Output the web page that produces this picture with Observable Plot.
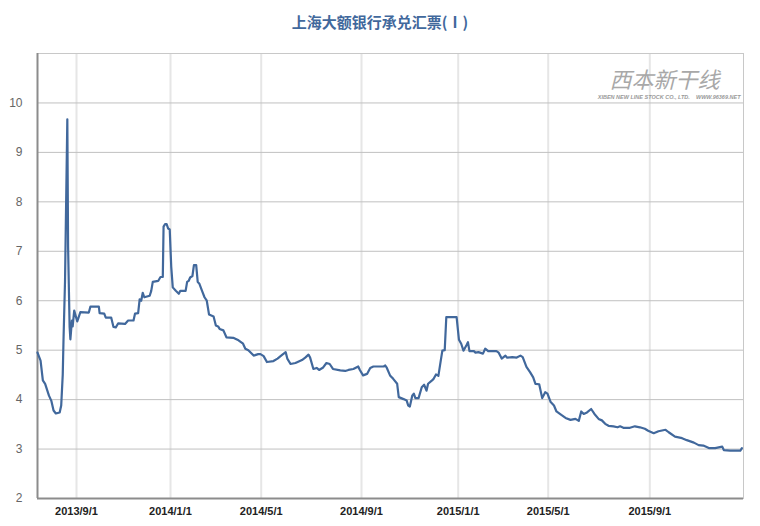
<!DOCTYPE html>
<html><head><meta charset="utf-8">
<script src="https://cdn.jsdelivr.net/npm/d3@7"></script>
<script src="https://cdn.jsdelivr.net/npm/@observablehq/plot@0.6"></script>
<style>
body{margin:0;background:#fff;}
#title{height:40px;line-height:44px;text-align:center;font-family:"Noto Sans CJK SC",sans-serif;font-weight:bold;font-size:15px;color:#41689c;}
</style></head><body>
<div id="title">上海大额银行承兑汇票(Ⅰ)</div>
<div id="chart"></div>
<script>
const dates = ["2013-07-12","2013-07-16","2013-07-19","2013-07-22","2013-07-27","2013-07-30","2013-08-02","2013-08-05","2013-08-10","2013-08-12","2013-08-14","2013-08-15","2013-08-17","2013-08-20","2013-08-21","2013-08-23","2013-08-24","2013-08-26","2013-08-27","2013-08-29","2013-09-02","2013-09-06","2013-09-17","2013-09-19","2013-09-30","2013-10-01","2013-10-07","2013-10-09","2013-10-16","2013-10-19","2013-10-22","2013-10-25","2013-11-03","2013-11-07","2013-11-14","2013-11-16","2013-11-20","2013-11-22","2013-11-24","2013-11-26","2013-11-28","2013-12-05","2013-12-07","2013-12-09","2013-12-16","2013-12-19","2013-12-22","2013-12-23","2013-12-25","2013-12-27","2013-12-29","2013-12-31","2014-01-02","2014-01-04","2014-01-08","2014-01-12","2014-01-14","2014-01-21","2014-01-23","2014-01-25","2014-01-27","2014-01-30","2014-02-01","2014-02-04","2014-02-06","2014-02-08","2014-02-12","2014-02-15","2014-02-18","2014-02-21","2014-02-27","2014-03-02","2014-03-05","2014-03-07","2014-03-12","2014-03-16","2014-03-25","2014-04-01","2014-04-07","2014-04-10","2014-04-14","2014-04-21","2014-04-27","2014-04-30","2014-05-04","2014-05-08","2014-05-16","2014-05-21","2014-05-27","2014-05-31","2014-06-02","2014-06-06","2014-06-12","2014-06-20","2014-06-24","2014-06-28","2014-06-30","2014-07-04","2014-07-08","2014-07-11","2014-07-16","2014-07-20","2014-07-24","2014-07-28","2014-08-06","2014-08-12","2014-08-16","2014-08-22","2014-08-28","2014-08-30","2014-09-03","2014-09-08","2014-09-12","2014-09-16","2014-09-29","2014-10-01","2014-10-03","2014-10-07","2014-10-11","2014-10-16","2014-10-18","2014-10-24","2014-10-28","2014-10-30","2014-11-01","2014-11-04","2014-11-06","2014-11-08","2014-11-12","2014-11-16","2014-11-19","2014-11-22","2014-11-24","2014-11-29","2014-12-01","2014-12-04","2014-12-07","2014-12-10","2014-12-12","2014-12-15","2014-12-17","2014-12-30","2015-01-02","2015-01-05","2015-01-08","2015-01-12","2015-01-14","2015-01-16","2015-01-22","2015-01-24","2015-01-28","2015-02-03","2015-02-06","2015-02-10","2015-02-21","2015-02-24","2015-02-28","2015-03-05","2015-03-07","2015-03-14","2015-03-20","2015-03-25","2015-03-28","2015-04-02","2015-04-07","2015-04-11","2015-04-14","2015-04-19","2015-04-23","2015-04-27","2015-04-30","2015-05-04","2015-05-08","2015-05-11","2015-05-16","2015-05-22","2015-05-28","2015-06-03","2015-06-07","2015-06-10","2015-06-13","2015-06-17","2015-06-22","2015-06-26","2015-07-01","2015-07-05","2015-07-09","2015-07-13","2015-07-19","2015-07-24","2015-07-27","2015-07-31","2015-08-08","2015-08-14","2015-08-20","2015-08-26","2015-08-30","2015-09-06","2015-09-12","2015-09-21","2015-09-25","2015-10-03","2015-10-12","2015-10-18","2015-10-27","2015-11-02","2015-11-08","2015-11-15","2015-11-23","2015-12-02","2015-12-04","2015-12-12","2015-12-25","2015-12-27"];
const values = [4.95,4.79,4.39,4.32,4.08,3.98,3.78,3.72,3.74,3.88,4.5,5.2,6.4,9.67,7.09,5.47,5.22,5.6,5.48,5.8,5.58,5.77,5.76,5.88,5.88,5.75,5.74,5.66,5.66,5.47,5.46,5.54,5.53,5.6,5.6,5.74,5.75,6.03,6.0,6.16,6.07,6.1,6.2,6.38,6.4,6.48,6.48,7.5,7.55,7.55,7.46,7.44,6.68,6.27,6.2,6.14,6.2,6.2,6.38,6.4,6.47,6.5,6.72,6.72,6.38,6.35,6.19,6.07,6.0,5.72,5.68,5.5,5.48,5.43,5.4,5.26,5.25,5.2,5.13,5.03,5.0,4.89,4.92,4.92,4.88,4.76,4.78,4.83,4.91,4.96,4.83,4.72,4.74,4.8,4.85,4.91,4.85,4.62,4.64,4.6,4.65,4.74,4.72,4.62,4.59,4.58,4.6,4.62,4.67,4.6,4.49,4.52,4.64,4.67,4.67,4.69,4.64,4.49,4.42,4.32,4.05,4.01,3.98,3.88,3.86,4.08,4.12,4.03,4.03,4.25,4.3,4.18,4.32,4.39,4.42,4.51,4.48,4.79,4.99,5.0,5.67,5.67,5.21,5.13,4.99,5.1,5.16,4.98,4.98,4.95,4.96,4.93,5.03,4.98,4.98,4.95,4.83,4.89,4.85,4.86,4.85,4.89,4.86,4.66,4.55,4.45,4.32,4.31,4.03,4.15,4.12,3.95,3.88,3.76,3.7,3.63,3.59,3.61,3.57,3.76,3.71,3.74,3.81,3.71,3.61,3.58,3.51,3.47,3.46,3.44,3.46,3.43,3.43,3.46,3.44,3.41,3.37,3.32,3.36,3.39,3.34,3.25,3.22,3.18,3.13,3.08,3.07,3.02,3.02,3.05,2.98,2.97,2.97,3.02];

// x axis of the original is a trading-day axis: piecewise time scale breakpoints
const xBreakDates = ["2013-07-12","2013-09-01","2014-01-01","2014-05-01","2014-09-01","2015-01-01","2015-05-01","2015-09-01","2015-12-29"];
const xBreakPx = [37,76,170,260.7,361,457.7,547.7,649.3,743];
const xTickDates = ["2013-09-01","2014-01-01","2014-05-01","2014-09-01","2015-01-01","2015-05-01","2015-09-01"];
const yTicks = [2,3,4,5,6,7,8,9,10];
const yGrid = [3,4,5,6,7,8,9,10];

const parse = d3.utcParse("%Y-%m-%d");
const data = dates.map((d, i) => ({date: parse(d), value: values[i]}));
const fmt = d3.utcFormat("%Y/%-m/%-d");
const xDom = xBreakDates.map(parse);
const ticksX = xTickDates.map(parse);

const chart = Plot.plot({
  width: 760, height: 486,
  marginTop: 13, marginBottom: 28, marginLeft: 37, marginRight: 17,
  style: {fontFamily: "Arial, 'Liberation Sans', sans-serif", background: "#fff"},
  x: {type: "utc", domain: xDom, range: xBreakPx},
  y: {domain: [2, 11]},
  marks: [
    Plot.gridX(ticksX, {stroke: "#e6e6e6", strokeWidth: 2, strokeOpacity: 1}),
    Plot.gridY(yGrid, {stroke: "#c0c0c0", strokeOpacity: 1}),
    Plot.frame({stroke: "#c8c8c8"}),
    Plot.text(["西本新干线"], {frameAnchor: "top-right", dx: -24, dy: 27, lineAnchor: "middle", textAnchor: "end", fontSize: 22, fontStyle: "italic", fill: "#a8a8a8", fontFamily: "'Noto Sans CJK SC', sans-serif"}),
    Plot.text(["XIBEN NEW LINE STOCK CO., LTD.    WWW.96369.NET"], {frameAnchor: "top-right", dx: -3, dy: 44, lineAnchor: "middle", textAnchor: "end", fontSize: 5.5, fontStyle: "italic", fontWeight: "bold", fill: "#999"}),
    Plot.axisY(yTicks, {tickSize: 0, tickPadding: 15, fontSize: 12, color: "#666", label: null}),
    Plot.axisX(ticksX, {tickSize: 0, tickPadding: 9, fontSize: 11, fontWeight: "bold", color: "#222", tickFormat: fmt, label: null}),
    Plot.ruleY([2], {stroke: "#8c8c8c", strokeWidth: 2}),
    Plot.ruleX([xDom[0]], {stroke: "#8c8c8c", strokeWidth: 2}),
    Plot.line(data, {x: "date", y: "value", stroke: "#41689c", strokeWidth: 2.2})
  ]
});
document.getElementById("chart").appendChild(chart);
</script></body></html>
